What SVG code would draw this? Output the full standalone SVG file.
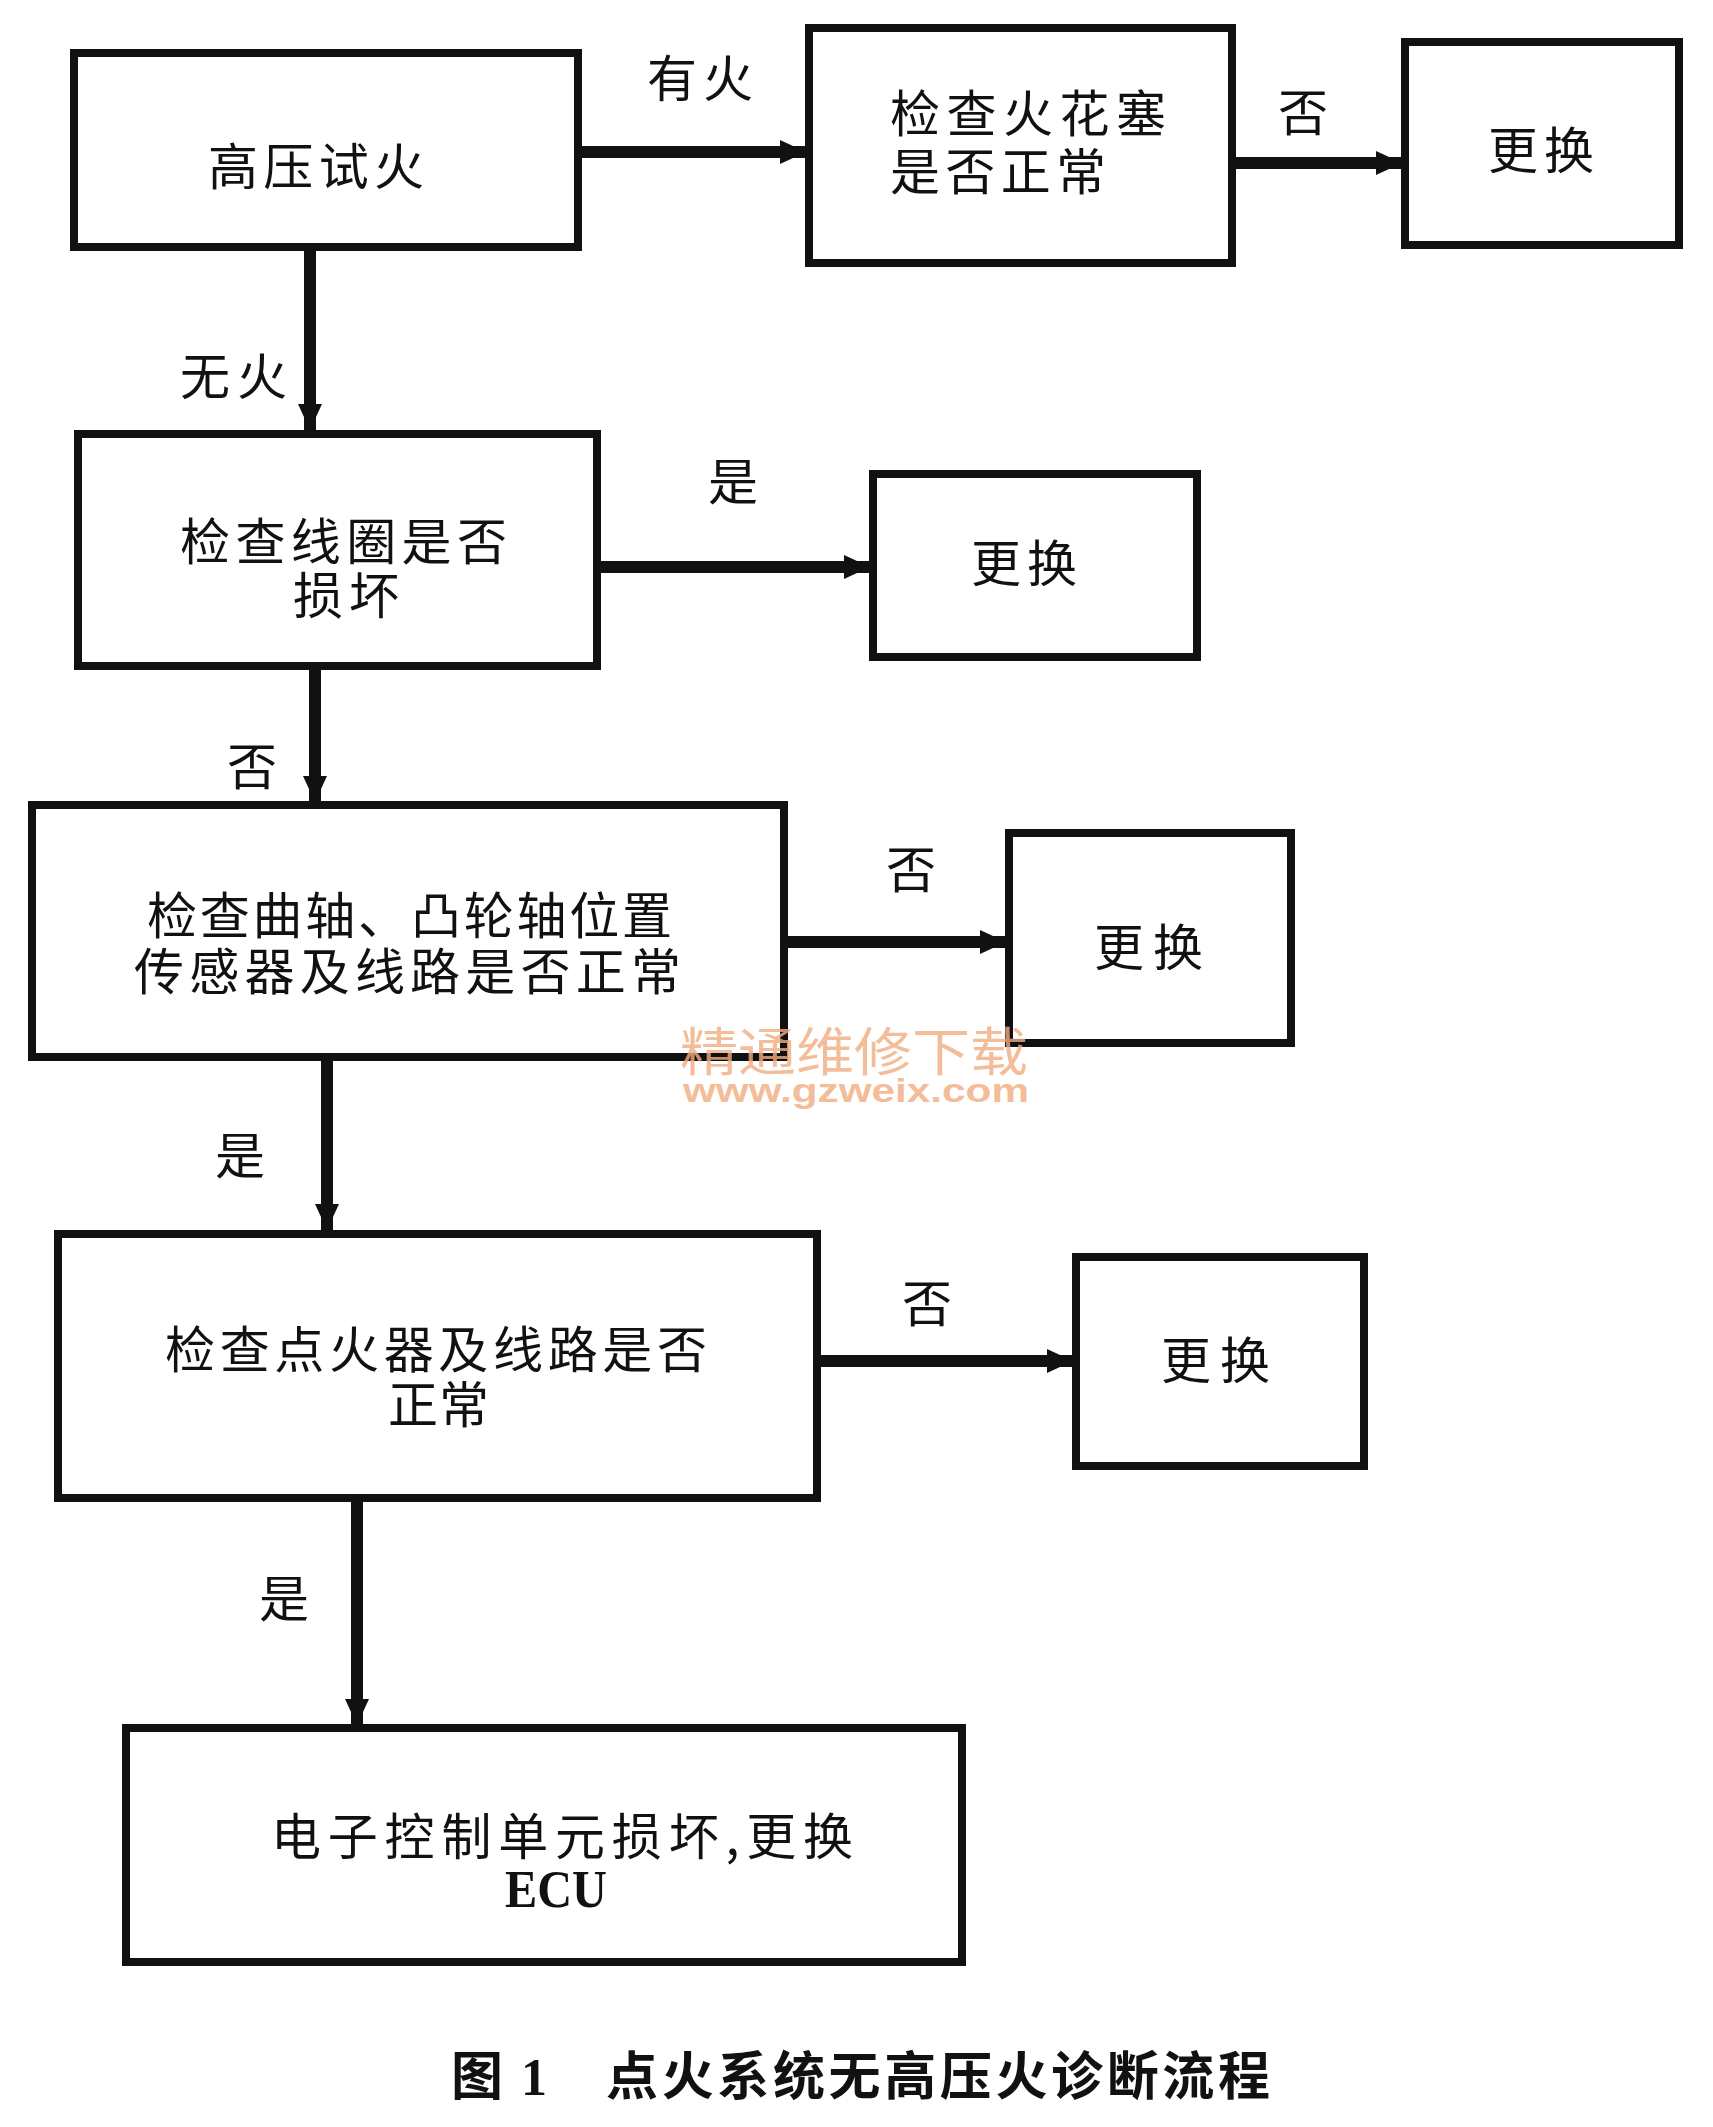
<svg xmlns="http://www.w3.org/2000/svg" width="1713" height="2127" viewBox="0 0 1713 2127">
<style>
.box{fill:#fff;stroke:#111;stroke-width:8}
.t{font-family:"Noto Sans CJK SC","Noto Sans CJK JP",sans-serif;font-size:50px;fill:#111}
.lbl{font-family:"Noto Sans CJK SC","Noto Sans CJK JP",sans-serif;font-size:50px;fill:#111}
.lat{font-family:"Liberation Serif",serif;font-size:52px;font-weight:bold}
.cap{font-family:"Noto Sans CJK SC",sans-serif;font-size:52px;font-weight:bold;fill:#111}
.capn{font-family:"Liberation Serif",serif;font-size:52px;font-weight:bold;fill:#111}
.wm{font-family:"Noto Sans CJK SC",sans-serif;fill:#f2ad80;opacity:0.8}
.wu{font-family:"Liberation Sans",sans-serif;font-weight:bold}
.c{fill:none;stroke:#111;stroke-width:12}
</style>
<defs>
<marker id="ah" markerUnits="userSpaceOnUse" markerWidth="28" markerHeight="28" viewBox="0 0 28 28" refX="26" refY="14" orient="auto">
<path d="M0,2 L26,14 L0,26 Z" fill="#111"/>
</marker>
</defs>
<rect width="1713" height="2127" fill="#fff"/>

<g id="connectors">
<line class="c" x1="578" y1="152" x2="806" y2="152" marker-end="url(#ah)"/>
<line class="c" x1="1232" y1="163" x2="1402" y2="163" marker-end="url(#ah)"/>
<line class="c" x1="310" y1="247" x2="310" y2="430" marker-end="url(#ah)"/>
<line class="c" x1="597" y1="567" x2="870" y2="567" marker-end="url(#ah)"/>
<line class="c" x1="315" y1="666" x2="315" y2="802" marker-end="url(#ah)"/>
<line class="c" x1="784" y1="942" x2="1006" y2="942" marker-end="url(#ah)"/>
<line class="c" x1="327" y1="1057" x2="327" y2="1230" marker-end="url(#ah)"/>
<line class="c" x1="817" y1="1361" x2="1073" y2="1361" marker-end="url(#ah)"/>
<line class="c" x1="357" y1="1498" x2="357" y2="1725" marker-end="url(#ah)"/>
<text class="lbl" x="647" y="97" textLength="106" lengthAdjust="spacing">有火</text>
<text class="lbl" x="1278" y="131">否</text>
<text class="lbl" x="180" y="395" textLength="107" lengthAdjust="spacing">无火</text>
<text class="lbl" x="708" y="500">是</text>
<text class="lbl" x="227" y="785">否</text>
<text class="lbl" x="886" y="888">否</text>
<text class="lbl" x="215" y="1174">是</text>
<text class="lbl" x="902" y="1322">否</text>
<text class="lbl" x="259" y="1617">是</text>
</g>

<g id="n1">
<rect class="box" x="74" y="53" width="504" height="194"/>
<text class="t" x="208" y="185" textLength="216" lengthAdjust="spacing">高压试火</text>
</g>
<g id="n2">
<rect class="box" x="809" y="28" width="423" height="235"/>
<text class="t"><tspan x="890" y="132" textLength="276" lengthAdjust="spacing">检查火花塞</tspan><tspan x="890" y="190" textLength="216" lengthAdjust="spacing">是否正常</tspan></text>
</g>
<g id="n3">
<rect class="box" x="1405" y="42" width="274" height="203"/>
<text class="t" x="1488" y="169" textLength="106" lengthAdjust="spacing">更换</text>
</g>
<g id="n4">
<rect class="box" x="78" y="434" width="519" height="232"/>
<text class="t"><tspan x="180" y="560" textLength="327" lengthAdjust="spacing">检查线圈是否</tspan><tspan x="293" y="614" textLength="106" lengthAdjust="spacing">损坏</tspan></text>
</g>
<g id="n5">
<rect class="box" x="873" y="474" width="324" height="183"/>
<text class="t" x="971" y="582" textLength="106" lengthAdjust="spacing">更换</text>
</g>
<g id="n6">
<rect class="box" x="32" y="805" width="752" height="252"/>
<text class="t"><tspan x="147" y="934" textLength="525" lengthAdjust="spacing">检查曲轴、凸轮轴位置</tspan><tspan x="134" y="990" textLength="547" lengthAdjust="spacing">传感器及线路是否正常</tspan></text>
</g>
<g id="n7">
<rect class="box" x="1009" y="833" width="282" height="210"/>
<text class="t" x="1094" y="966" textLength="109" lengthAdjust="spacing">更换</text>
</g>
<g id="n8">
<rect class="box" x="58" y="1234" width="759" height="264"/>
<text class="t"><tspan x="165" y="1368" textLength="542" lengthAdjust="spacing">检查点火器及线路是否</tspan><tspan x="388" y="1423" textLength="101" lengthAdjust="spacing">正常</tspan></text>
</g>
<g id="n9">
<rect class="box" x="1076" y="1257" width="288" height="209"/>
<text class="t" x="1161" y="1379" textLength="109" lengthAdjust="spacing">更换</text>
</g>
<g id="n10">
<rect class="box" x="126" y="1728" width="836" height="234"/>
<text class="t"><tspan x="271" y="1855" textLength="582" lengthAdjust="spacing">电子控制单元损坏,更换</tspan><tspan class="lat" x="505" y="1907" textLength="102" lengthAdjust="spacingAndGlyphs">ECU</tspan></text>
</g>

<g id="watermark">
<text class="wm"><tspan x="680" y="1071" font-size="52" textLength="348" lengthAdjust="spacingAndGlyphs">精通维修下载</tspan><tspan class="wu" x="683" y="1102" font-size="34" textLength="346" lengthAdjust="spacingAndGlyphs">www.gzweix.com</tspan></text>
</g>

<g id="caption">
<text class="cap" x="451" y="2095">图</text>
<text class="capn" x="521" y="2095">1</text>
<text class="cap" x="606" y="2095" textLength="664" lengthAdjust="spacing">点火系统无高压火诊断流程</text>
</g>
</svg>
